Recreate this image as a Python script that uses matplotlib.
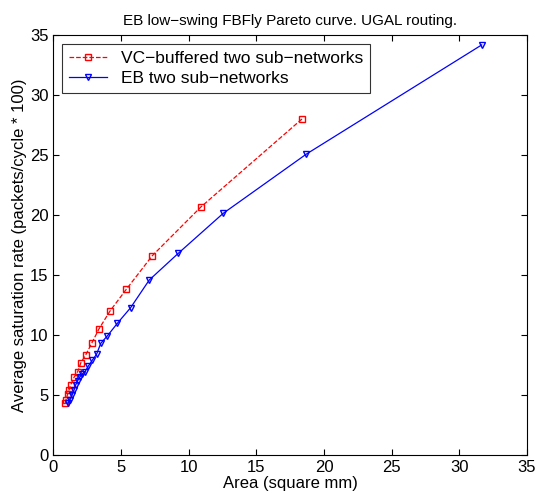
import matplotlib
matplotlib.use("Agg")
import matplotlib.pyplot as plt

plt.rcParams['font.family'] = ['Liberation Sans', 'DejaVu Sans']

# VC-buffered two sub-networks
vc_area = [0.88, 0.92, 1.05, 1.15, 1.27, 1.52, 1.79, 2.03, 2.38, 2.82, 3.36, 4.18, 5.38, 7.30, 10.9, 18.37]
vc_rate = [4.3, 4.58, 5.08, 5.42, 5.83, 6.47, 6.94, 7.7, 8.33, 9.3, 10.5, 12.0, 13.8, 16.6, 20.67, 28.0]

# EB two sub-networks
eb_area = [1.07, 1.22, 1.38, 1.52, 1.64, 1.79, 1.95, 2.13, 2.33, 2.57, 2.87, 3.19, 3.49, 3.98, 4.72, 5.7, 7.08, 9.22, 12.55, 18.7, 31.65]
eb_rate = [4.33, 4.6, 5.0, 5.4, 5.83, 6.2, 6.5, 6.75, 6.94, 7.4, 7.9, 8.4, 9.3, 9.92, 10.97, 12.27, 14.58, 16.8, 20.14, 25.08, 34.17]

fig = plt.figure(figsize=(5.38, 4.93), dpi=100)
ax = fig.add_axes([0.0994, 0.0771, 0.8802, 0.852])

ax.plot(vc_area, vc_rate, color='r', linestyle='--', linewidth=0.9, marker='s',
        markersize=5, markerfacecolor='none', markeredgecolor='r', label="VC\u2212buffered two sub\u2212networks")
ax.plot(eb_area, eb_rate, color='b', linestyle='-', linewidth=0.9, marker='v',
        markersize=5, markerfacecolor='none', markeredgecolor='b', label="EB two sub\u2212networks")

ax.set_xlim(0, 35)
ax.set_ylim(0, 35)
ax.set_xticks(range(0, 36, 5))
ax.set_yticks(range(0, 36, 5))
ax.tick_params(direction='in', top=True, right=True, labelsize=12, length=4)
ax.set_xlabel("Area (square mm)", fontsize=12, labelpad=1)
ax.set_ylabel("Average saturation rate (packets/cycle * 100)", fontsize=12, labelpad=2)
ax.set_title("EB low\u2212swing FBFly Pareto curve. UGAL routing.", fontsize=11, pad=7)

leg = ax.legend(loc='upper left', fontsize=12.5, fancybox=False, edgecolor='k',
                handlelength=2.2, borderaxespad=0.5, labelspacing=0.3)
leg.get_frame().set_linewidth(0.8)

fig.savefig("out.png", dpi=100)
